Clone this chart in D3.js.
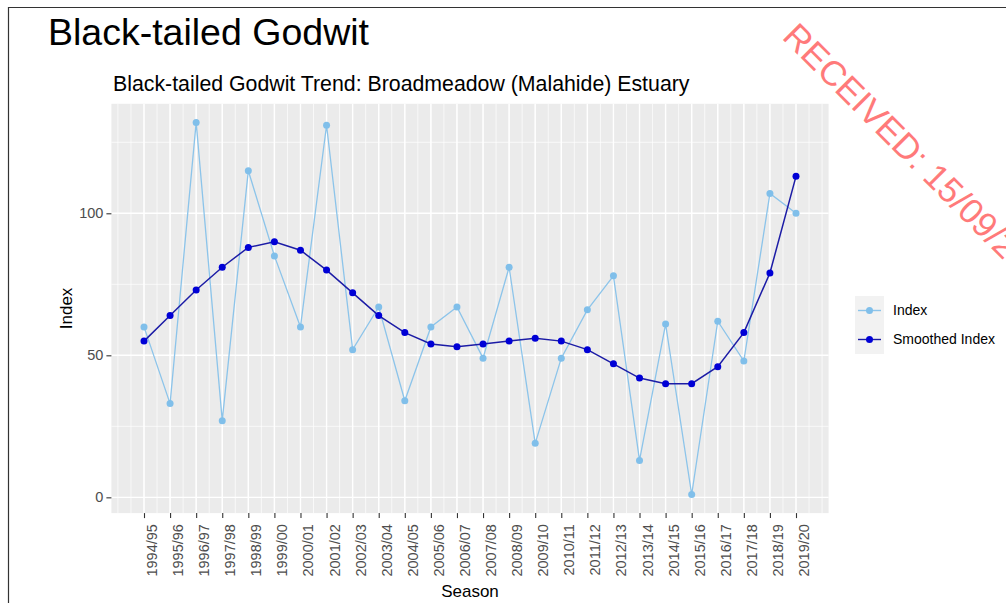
<!DOCTYPE html>
<html>
<head>
<meta charset="utf-8">
<script src="https://cdn.jsdelivr.net/npm/d3@7"></script>
<style>
  body { margin: 0; background: #fff; }
  svg { display: block; font-family: "Liberation Sans", Arial, sans-serif; }
</style>
</head>
<body>
<div id="chart"></div>
<script>
// data
var seasons = ["1994/95","1995/96","1996/97","1997/98","1998/99","1999/00","2000/01","2001/02",
  "2002/03","2003/04","2004/05","2005/06","2006/07","2007/08","2008/09","2009/10","2010/11",
  "2011/12","2012/13","2013/14","2014/15","2015/16","2016/17","2017/18","2018/19","2019/20"];
var indexValues = [60,33,132,27,115,85,60,131,52,67,34,60,67,49,81,19,49,66,78,13,61,1,62,48,107,100];
var smoothedValues = [55,64,73,81,88,90,87,80,72,64,58,54,53,54,55,56,55,52,47,42,40,40,46,58,79,113];
var yTicks = [0, 50, 100];
var yMinor = [25, 75, 125];
var seriesNames = ["Index", "Smoothed Index"];

var width = 1006, height = 603;
var panel = {left: 111.4, right: 828.6, top: 103.8, bottom: 513.1};

var svg = d3.select('#chart').append('svg')
    .attr('width', width)
    .attr('height', height);

// page frame (scanned document edge)
svg.append('path')
  .attr('d', 'M8.5,603 L8.5,7.5 L1006,7.5')
  .attr('fill', 'none')
  .attr('stroke', '#333')
  .attr('stroke-width', 1.2);

// x is continuous over season index, 5% expansion like ggplot
var n = seasons.length;
var xPad = (n - 1) * 0.05;
var x = d3.scaleLinear().domain([-xPad, n - 1 + xPad]).range([panel.left, panel.right]);
var yExt = d3.extent(indexValues.concat(smoothedValues));
var yPad = (yExt[1] - yExt[0]) * 0.05;
var y = d3.scaleLinear().domain([yExt[0] - yPad, yExt[1] + yPad]).range([panel.bottom, panel.top]);

svg.append('rect')
  .attr('x', panel.left).attr('y', panel.top)
  .attr('width', panel.right - panel.left).attr('height', panel.bottom - panel.top)
  .attr('fill', '#ebebeb');

var grid = svg.append('g');
// minor x grid every half step (including one step outside the breaks)
var xMinor = d3.range(-1, n + 0.5, 0.5);
grid.selectAll('.xminor').data(xMinor).enter().append('line')
  .attr('x1', function(d) { return x(d); }).attr('x2', function(d) { return x(d); })
  .attr('y1', panel.top).attr('y2', panel.bottom)
  .attr('stroke', '#fff').attr('stroke-width', 0.7);
grid.selectAll('.yminor').data(yMinor).enter().append('line')
  .attr('x1', panel.left).attr('x2', panel.right)
  .attr('y1', function(d) { return y(d); }).attr('y2', function(d) { return y(d); })
  .attr('stroke', '#fff').attr('stroke-width', 0.7);
grid.selectAll('.xmajor').data(d3.range(n)).enter().append('line')
  .attr('x1', function(d) { return x(d); }).attr('x2', function(d) { return x(d); })
  .attr('y1', panel.top).attr('y2', panel.bottom)
  .attr('stroke', '#fff').attr('stroke-width', 1.4);
grid.selectAll('.ymajor').data(yTicks).enter().append('line')
  .attr('x1', panel.left).attr('x2', panel.right)
  .attr('y1', function(d) { return y(d); }).attr('y2', function(d) { return y(d); })
  .attr('stroke', '#fff').attr('stroke-width', 1.4);

// axes
var xAxis = d3.axisBottom(x).tickValues(d3.range(n))
  .tickFormat(function(d) { return seasons[d]; }).tickSize(5).tickSizeOuter(0);
var gx = svg.append('g').attr('transform', 'translate(0,' + panel.bottom + ')').call(xAxis);
gx.select('.domain').remove();
gx.selectAll('.tick line').attr('stroke', '#333').attr('stroke-width', 1.1);
gx.selectAll('.tick text')
  .attr('transform', 'rotate(-90)')
  .attr('x', -11).attr('y', 12.5).attr('dy', null)
  .attr('text-anchor', 'end')
  .attr('fill', '#4d4d4d')
  .style('font-size', '14.5px')
  .style('font-family', '"Liberation Sans", Arial, sans-serif');

var yAxis = d3.axisLeft(y).tickValues(yTicks).tickSize(5).tickPadding(3).tickSizeOuter(0);
var gy = svg.append('g').attr('transform', 'translate(' + panel.left + ',0)').call(yAxis);
gy.select('.domain').remove();
gy.selectAll('.tick line').attr('stroke', '#333').attr('stroke-width', 1.1);
gy.selectAll('.tick text')
  .attr('fill', '#4d4d4d')
  .style('font-size', '14.5px')
  .style('font-family', '"Liberation Sans", Arial, sans-serif');

// series
var colors = ['#80bfea', '#0000d6'];
var lineColors = ['#8cc4ea', '#1c1ca6'];
var allSeries = [indexValues, smoothedValues];
var line = d3.line().x(function(d, i) { return x(i); }).y(function(d) { return y(d); });

allSeries.forEach(function(vals, s) {
  var g = svg.append('g');
  g.append('path').datum(vals)
    .attr('d', line)
    .attr('fill', 'none')
    .attr('stroke', lineColors[s])
    .attr('stroke-width', s === 0 ? 1.3 : 1.5);
  g.selectAll('circle').data(vals).enter().append('circle')
    .attr('cx', function(d, i) { return x(i); })
    .attr('cy', function(d) { return y(d); })
    .attr('r', 3.5)
    .attr('fill', colors[s]);
});

// titles
svg.append('text').attr('x', 48).attr('y', 45)
  .style('font-size', '37.5px').attr('fill', '#000').text('Black-tailed Godwit');
svg.append('text').attr('x', 113).attr('y', 91)
  .style('font-size', '21.3px').attr('fill', '#000')
  .text('Black-tailed Godwit Trend: Broadmeadow (Malahide) Estuary');
svg.append('text').attr('x', (panel.left + panel.right) / 2).attr('y', 597)
  .attr('text-anchor', 'middle').style('font-size', '17px').text('Season');
svg.append('text')
  .attr('transform', 'translate(72,' + (panel.top + panel.bottom) / 2 + ') rotate(-90)')
  .attr('text-anchor', 'middle').style('font-size', '17px').text('Index');

// legend
var legend = svg.append('g').attr('transform', 'translate(855,296)');
seriesNames.forEach(function(name, s) {
  var k = legend.append('g').attr('transform', 'translate(0,' + s * 29 + ')');
  k.append('rect').attr('width', 29).attr('height', 29).attr('fill', '#f2f2f2');
  k.append('line').attr('x1', 3).attr('x2', 26).attr('y1', 14.5).attr('y2', 14.5)
    .attr('stroke', lineColors[s]).attr('stroke-width', 1.4);
  k.append('circle').attr('cx', 14.5).attr('cy', 14.5).attr('r', 3.5).attr('fill', colors[s]);
  k.append('text').attr('x', 38).attr('y', 14.5).attr('dy', '0.35em')
    .style('font-size', '14px').text(name);
});

// received stamp (runs off the page edge, as in the scan)
svg.append('text')
  .attr('transform', 'translate(781,38) rotate(45)')
  .style('font-size', '35px')
  .attr('fill', '#ff7a7a')
  .text('RECEIVED: 15/09/2020');
</script>
</body>
</html>
